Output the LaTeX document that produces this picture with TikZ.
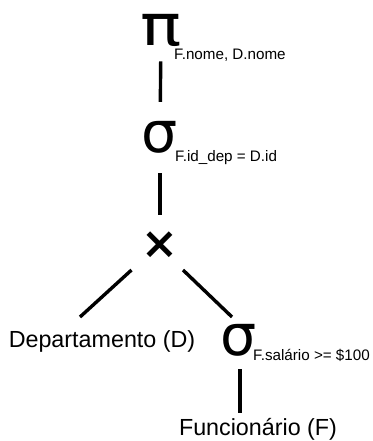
\documentclass[tikz,border=0pt]{standalone}
\usepackage{fontspec}
\setmainfont{Liberation Sans}
\newfontfamily\greekfont{DejaVu Sans}
\usepackage{tikz}
\usetikzlibrary{positioning}

\begin{document}
\begin{tikzpicture}[x=1pt, y=-1pt,
    op/.style={inner sep=0pt, font=\greekfont\fontsize{57}{57}\selectfont},
    sub/.style={anchor=base west, inner sep=0pt, font=\fontsize{15.2}{16}\selectfont},
    rel/.style={anchor=base, inner sep=0pt, font=\fontsize{23.3}{26}\selectfont},
    link/.style={line width=3.4pt}]

    \useasboundingbox (0,0) rectangle (372,441);

    % Operators
    \node[op, xscale=1.2, transform shape] (proj) at (161,30) {π};
    \node[sub] (projsub) at (174,60) {F.nome, D.nome};
    \node[op] (sel) at (160,137) {σ};
    \node[sub] (selsub) at (175,161) {F.id\_dep = D.id};
    \node[inner sep=0pt, font=\greekfont\bfseries\fontsize{44}{44}\selectfont] (prod) at (160,245) {×};
    \node[op] (selsal) at (239,340) {σ};
    \node[sub] (selsalsub) at (253,360) {F.salário >= \$100};

    % Relations
    \node[rel] (dep) at (102,347) {Departamento (D)};
    \node[rel] (func) at (258,435) {Funcionário (F)};

    % Edges
    \draw[link, shorten <=15pt, shorten >=19pt] (proj) -- (sel);
    \draw[link, shorten <=20pt, shorten >=16pt] (sel) -- (prod);
    \draw[link] ([shift={(-28.5,25)}]prod.center) -- ([shift={(-22,-30)}]dep.base);
    \draw[link] ([shift={(23,25)}]prod.center) -- ([shift={(-7,-23)}]selsal.center);
    \draw[link] ([shift={(1,13)}]selsal.south) -- ([shift={(-18,-5)}]func.north);
\end{tikzpicture}
\end{document}
